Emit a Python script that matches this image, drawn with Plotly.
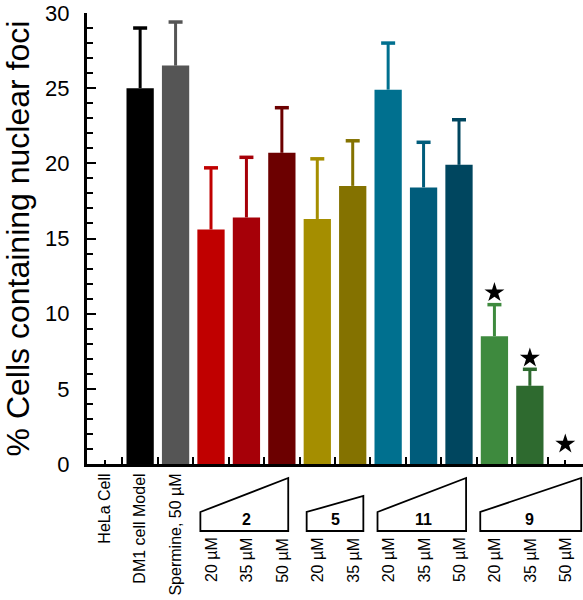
import plotly.graph_objects as go

# ---- data ----
categories = ["HeLa Cell", "DM1 cell Model", "Spermine, 50 µM",
              "20 µM", "35 µM", "50 µM",
              "20 µM", "35 µM",
              "20 µM", "35 µM", "50 µM",
              "20 µM", "35 µM", "50 µM"]
values = [0, 25.0, 26.5, 15.6, 16.4, 20.7, 16.3, 18.5, 24.9, 18.4, 19.9, 8.5, 5.2, 0]
err_up = [0, 4.0, 2.9, 4.1, 4.0, 3.0, 4.0, 3.0, 3.1, 3.0, 3.0, 2.1, 1.1, 0]
colors = ["#000000", "#000000", "#555555",
          "#C00000", "#A60008", "#6C0000",
          "#A58E00", "#847200",
          "#00708F", "#005C7B", "#00465F",
          "#3E8A3E", "#2E6A2F", "#2E6A2F"]
star_idx = [11, 12, 13]
star_y = [11.4, 7.05, 1.33]
groups = [("2", 3, 5), ("5", 6, 7), ("11", 8, 10), ("9", 11, 13)]
y_title = "% Cells containing nuclear foci"

FONT = "Arial, Liberation Sans, sans-serif"
n = len(categories)

fig = go.Figure()
for i, (v, e, c) in enumerate(zip(values, err_up, colors)):
    if v <= 0:
        continue
    fig.add_trace(go.Bar(
        x=[i], y=[v], width=0.77,
        marker=dict(color=c, line=dict(width=0)),
        error_y=dict(type="data", array=[e], arrayminus=[0], symmetric=False,
                     color=c, thickness=3, width=0),
        showlegend=False,
    ))
    # cap only at the top end of the error bar
    fig.add_trace(go.Scatter(
        x=[i], y=[v + e], mode="markers",
        marker=dict(symbol="line-ew", size=10, line=dict(color=c, width=3.5)),
        showlegend=False, cliponaxis=False,
    ))

fig.add_trace(go.Scatter(
    x=star_idx, y=star_y, mode="markers",
    marker=dict(symbol="star", size=15, color="black", line=dict(width=0)),
    showlegend=False, cliponaxis=False,
))

x0, x1 = -0.5, n - 0.5
def px(xd):
    return (xd - x0) / (x1 - x0)

# paper y positions for the dose wedges (plot height spans 13..464 px)
def py(pix):
    return (464 - pix) / 451.0

shapes = []
annotations = []
for label, a, b in groups:
    three = (b - a) == 2
    left = a - (0.4 if label == "9" else 0.3)
    right = b + (0.45 if label == "9" else (0.3 if not three else 0.2))
    if label == "2":
        right = b + 0.18
    ytop_r = 478 if three else 496
    path = "M {l},{yb} L {r},{yb} L {r},{yt} L {l},{yl} Z".format(
        l=px(left), r=px(right), yb=py(531), yt=py(ytop_r), yl=py(512))
    shapes.append(dict(type="path", path=path, xref="paper", yref="paper",
                       line=dict(color="black", width=1.8), fillcolor="white"))
    annotations.append(dict(x=(a + b) / 2.0, y=py(519), xref="x", yref="paper",
                            text="<b>%s</b>" % label, showarrow=False,
                            font=dict(family=FONT, size=16, color="black"),
                            xanchor="center", yanchor="middle"))
    for i in range(a, b + 1):
        annotations.append(dict(x=i, y=py(560), xref="x", yref="paper",
                                text=categories[i], textangle=-90, showarrow=False,
                                font=dict(family=FONT, size=16, color="black"),
                                xanchor="center", yanchor="middle"))

ticktext = [categories[i] if i < 3 else "" for i in range(n)]

fig.update_layout(
    width=583, height=600,
    margin=dict(l=87, r=0, t=13, b=136, autoexpand=False),
    paper_bgcolor="white", plot_bgcolor="white",
    font=dict(family=FONT, color="black"),
    shapes=shapes, annotations=annotations,
    bargap=0.23,
    xaxis=dict(
        range=[x0, x1], showgrid=False, zeroline=False,
        showline=True, linecolor="black", linewidth=3,
        tickmode="array", tickvals=list(range(n)), ticktext=ticktext,
        tickangle=-90, ticks="inside", ticklen=4, tickwidth=1.5, tickcolor="black",
        tickfont=dict(family=FONT, size=16, color="black"),
        ticklabelstandoff=0,
        minor=dict(tickmode="array", tickvals=[k - 0.5 for k in range(n + 1)],
                   ticks="inside", ticklen=7, tickwidth=1.5, tickcolor="black"),
        layer="below traces", fixedrange=True,
    ),
    yaxis=dict(
        range=[0, 30], showgrid=False, zeroline=False,
        showline=True, linecolor="black", linewidth=3,
        tickmode="linear", tick0=0, dtick=5,
        ticks="inside", ticklen=9, tickwidth=2, tickcolor="black",
        minor=dict(dtick=1, ticks="inside", ticklen=6, tickwidth=1.5, tickcolor="black"),
        tickfont=dict(family=FONT, size=22, color="black"),
        ticklabelstandoff=10,
        title=dict(text=y_title, font=dict(family=FONT, size=32, color="black"), standoff=16),
        fixedrange=True,
    ),
)

fig.write_html("out.html", config={"displayModeBar": False},
               post_script="document.body.style.margin='0';document.body.style.padding='0';")
